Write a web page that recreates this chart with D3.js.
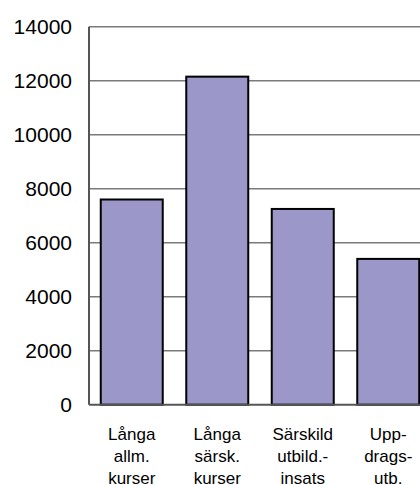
<!DOCTYPE html>
<html lang="sv">
<head>
<meta charset="UTF-8">
<title>Stapeldiagram</title>
<script src="https://cdnjs.cloudflare.com/ajax/libs/d3/7.8.5/d3.min.js"></script>
<style>
  body { margin: 0; background: #fff; }
  text { font-family: "Liberation Sans", Arial, sans-serif; fill: #000; }
</style>
</head>
<body>
<div id="chart"></div>
<script>
var categories = ["Långa allm. kurser", "Långa särsk. kurser", "Särskild utbild.- insats", "Upp- drags- utb."];
var labelLines = [["Långa", "allm.", "kurser"], ["Långa", "särsk.", "kurser"], ["Särskild", "utbild.-", "insats"], ["Upp-", "drags-", "utb."]];
var values = [7600, 12150, 7250, 5400];
var yTicks = [0, 2000, 4000, 6000, 8000, 10000, 12000, 14000];

var width = 420, height = 485;
var plotLeft = 89, plotRight = 431, plotTop = 26.7, plotBottom = 404.7;

var svg = d3.select("#chart").append("svg")
  .attr("width", width)
  .attr("height", height);

var x = d3.scaleBand()
  .domain(categories)
  .range([plotLeft, plotRight])
  .paddingInner(0.275)
  .paddingOuter(0.1375);

var y = d3.scaleLinear()
  .domain([0, 14000])
  .range([plotBottom, plotTop]);

// gridlines
svg.append("g")
  .selectAll("line")
  .data(yTicks.slice(1))
  .enter().append("line")
  .attr("x1", plotLeft).attr("x2", plotRight)
  .attr("y1", function(d) { return y(d); })
  .attr("y2", function(d) { return y(d); })
  .attr("stroke", "#7a7a7a")
  .attr("stroke-width", 1.5);

// bars
svg.append("g")
  .selectAll("rect")
  .data(values)
  .enter().append("rect")
  .attr("x", function(d, i) { return x(categories[i]); })
  .attr("y", function(d) { return y(d); })
  .attr("width", x.bandwidth())
  .attr("height", function(d) { return y(0) - y(d); })
  .attr("fill", "#9c97c9")
  .attr("stroke", "#000")
  .attr("stroke-width", 2);

// y axis
var yAxis = svg.append("g")
  .attr("transform", "translate(" + plotLeft + ",0)")
  .call(d3.axisLeft(y).tickValues(yTicks).tickSize(0).tickPadding(17).tickFormat(d3.format("d")));
yAxis.select(".domain").remove();
yAxis.selectAll("text").style("font-size", "21px").attr("fill", "#000");

svg.append("line")
  .attr("x1", plotLeft).attr("x2", plotLeft)
  .attr("y1", plotTop).attr("y2", plotBottom)
  .attr("stroke", "#555").attr("stroke-width", 2);
svg.append("line")
  .attr("x1", plotLeft).attr("x2", plotRight)
  .attr("y1", plotBottom).attr("y2", plotBottom)
  .attr("stroke", "#555").attr("stroke-width", 2);

// category labels
var lab = svg.append("g")
  .selectAll("text")
  .data(categories)
  .enter().append("text")
  .attr("text-anchor", "middle")
  .style("font-size", "17px")
  .attr("transform", function(d) { return "translate(" + (x(d) + x.bandwidth() / 2) + ",439.5)"; });

lab.selectAll("tspan")
  .data(function(d, i) { return labelLines[i]; })
  .enter().append("tspan")
  .attr("x", 0)
  .attr("y", function(d, j) { return j * 22.3; })
  .text(function(d) { return d; });
</script>
</body>
</html>
